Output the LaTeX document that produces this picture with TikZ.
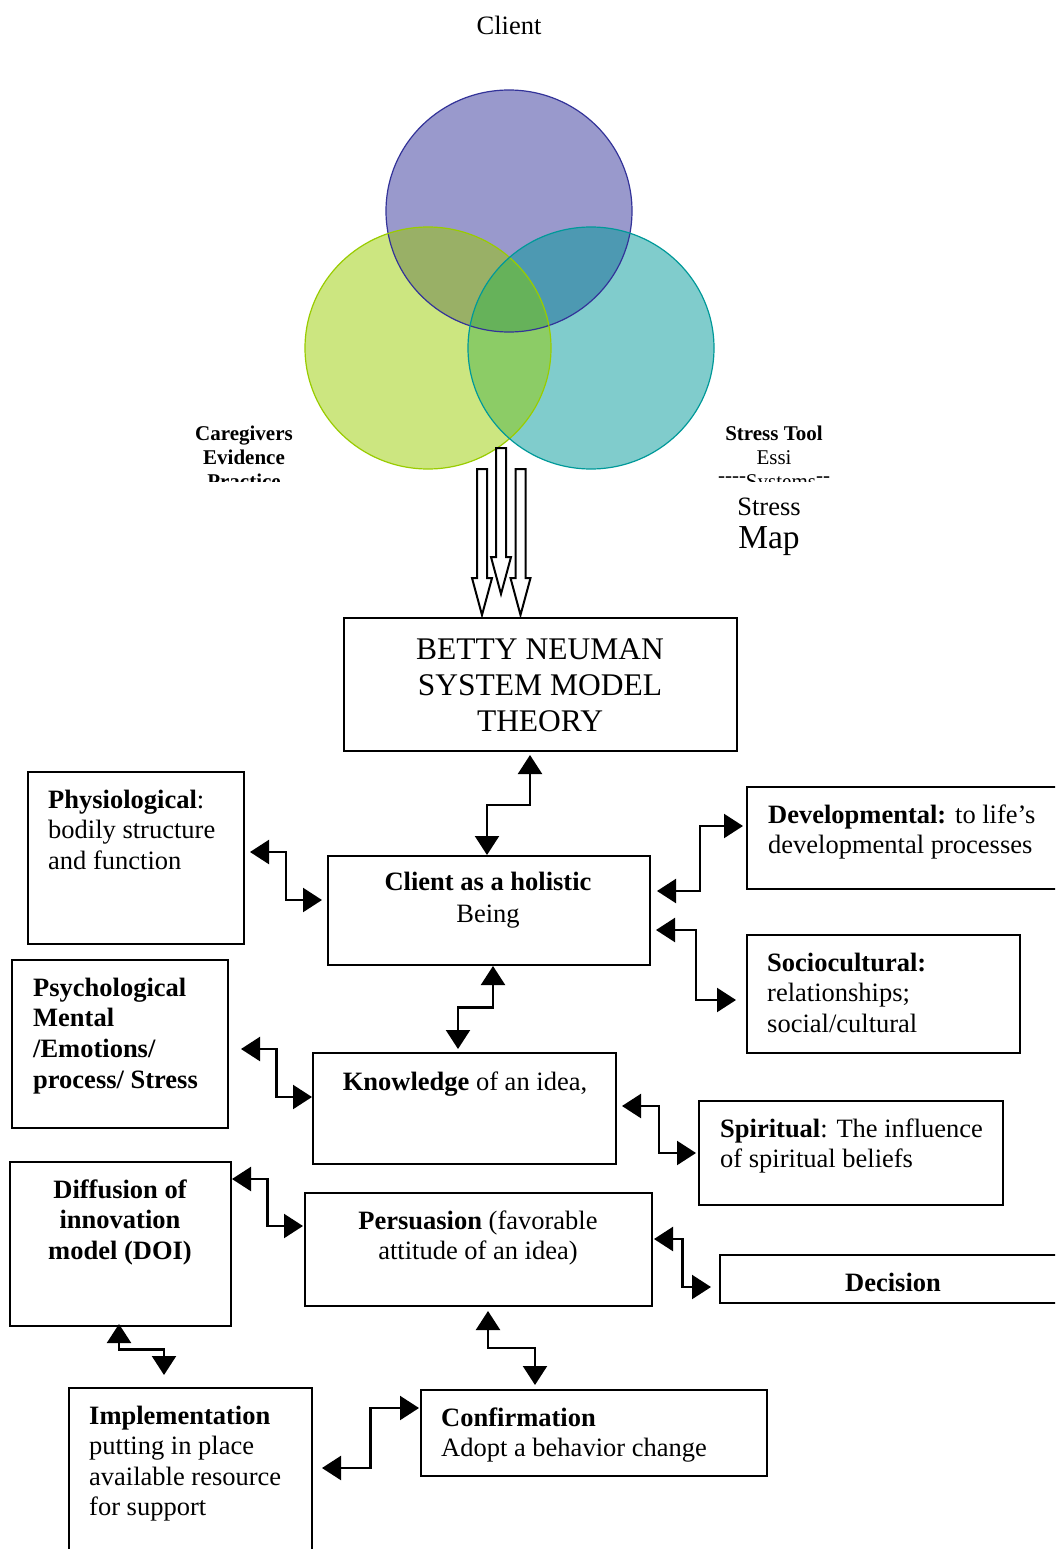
\documentclass[tikz,border=0pt]{standalone}
\usepackage{fontspec}
\setmainfont{Liberation Serif}
\usetikzlibrary{arrows.meta,calc}
\definecolor{cP}{RGB}{153,153,204}
\definecolor{cPb}{RGB}{51,51,153}
\definecolor{cG}{RGB}{204,230,128}
\definecolor{cGb}{RGB}{153,204,0}
\definecolor{cT}{RGB}{128,204,204}
\definecolor{cTb}{RGB}{0,153,153}
\definecolor{cPG}{RGB}{153,176,102}
\definecolor{cPT}{RGB}{77,153,178}
\definecolor{cGT}{RGB}{140,204,102}
\definecolor{cPGT}{RGB}{102,178,90}
\tikzset{
  box/.style={draw, line width=2pt, rectangle, inner sep=0pt},
  txt/.style={inner sep=0pt, font=\fontsize{26.5}{30.5}\selectfont},
  conn/.style={line width=2.2pt, {Triangle[length=19pt,width=24pt]}-{Triangle[length=19pt,width=24pt]}},
  hvh/.style={to path={-| ($(\tikztostart)!0.5!(\tikztotarget)$) |- (\tikztotarget)}},
  vhv/.style={to path={|- ($(\tikztostart)!0.5!(\tikztotarget)$) -| (\tikztotarget)}},
  hollow/.style={draw=black, fill=white, line width=2pt, line join=miter}
}
\newcommand{\hdash}{\raisebox{0.3em}{-}}
\begin{document}
\begin{tikzpicture}[x=1pt,y=-1pt]
\useasboundingbox (0,0) rectangle (1055,1549);
\clip (0,0) rectangle (1055,1549);
\fill[white] (0,0) rectangle (1055,1549);

% title
\node[txt] (client) at (509,25) {Client};

% circles
\def\cPpath{(509,211) ellipse [x radius=123, y radius=121]}
\def\cGpath{(428,348) ellipse [x radius=123, y radius=121]}
\def\cTpath{(591,348) ellipse [x radius=123, y radius=121]}
\fill[cP] \cPpath;
\fill[cG] \cGpath;
\fill[cT] \cTpath;
\begin{scope}\clip \cPpath; \fill[cPG] \cGpath; \end{scope}
\begin{scope}\clip \cPpath; \fill[cPT] \cTpath; \end{scope}
\begin{scope}\clip \cGpath; \fill[cGT] \cTpath; \end{scope}
\begin{scope}\clip \cPpath; \clip \cGpath; \fill[cPGT] \cTpath; \end{scope}
\draw[cPb, line width=1.2pt] \cPpath;
\draw[cGb, line width=1.2pt] \cGpath;
\draw[cTb, line width=1.2pt] \cTpath;

% clipped side labels
\begin{scope}
\clip (150,415) rectangle (340,481);
\node[inner sep=0pt, font=\fontsize{21}{24}\selectfont\bfseries, align=center, anchor=north] (care) at (244,426) {Caregivers\\Evidence\\Practice};
\end{scope}
\begin{scope}
\clip (690,415) rectangle (870,481);
\node[inner sep=0pt, font=\fontsize{21}{24}\selectfont, align=center, anchor=north] (stool) at (774,426) {\textbf{Stress Tool}\\Essi\\\hdash{}\hdash{}\hdash{}\hdash{}Systems\hdash{}\hdash};
\end{scope}
\node[txt] (stress) at (769,507) {Stress};
\node[inner sep=0pt, font=\fontsize{33.5}{36}\selectfont] (map) at (769,541) {Map};

% hollow arrows
\draw[hollow] (477,469) -- (477,578) -- (472,578) -- (482,615) -- (492,578) -- (487,578) -- (487,469) -- cycle;
\draw[hollow] (515.5,469) -- (515.5,578) -- (510.5,578) -- (520.5,615) -- (530.5,578) -- (525.5,578) -- (525.5,469) -- cycle;
\draw[hollow] (496,448) -- (496,557) -- (491,557) -- (501,594) -- (511,557) -- (506,557) -- (506,448) -- cycle;

% boxes
\node[box, minimum width=393pt, minimum height=133pt] (betty) at (540.5,684.5) {};
\node[box, minimum width=216pt, minimum height=172pt] (phys) at (136,858) {};
\node[box, minimum width=322pt, minimum height=109pt] (holis) at (489,910.5) {};
\node[box, minimum width=323pt, minimum height=102pt] (devel) at (908.5,838) {};
\node[box, minimum width=273pt, minimum height=118pt] (socio) at (883.5,994) {};
\node[box, minimum width=216pt, minimum height=168pt] (psych) at (120,1044) {};
\node[box, minimum width=303pt, minimum height=111pt] (know) at (464.5,1108.5) {};
\node[box, minimum width=304pt, minimum height=104pt] (spirit) at (851,1153) {};
\node[box, minimum width=221pt, minimum height=164pt] (diff) at (120.5,1244) {};
\node[box, minimum width=347pt, minimum height=113pt] (pers) at (478.5,1249.5) {};
\node[box, minimum width=350pt, minimum height=48pt] (decis) at (895,1279) {};
\node[box, minimum width=243pt, minimum height=172pt] (impl) at (190.5,1474) {};
\node[box, minimum width=346pt, minimum height=86pt] (conf) at (594,1433) {};

% box texts
\node[inner sep=0pt, font=\fontsize{31.5}{36}\selectfont, align=center, anchor=north] (bettyT) at (540,638) {BETTY NEUMAN\\SYSTEM MODEL\\THEORY};
\node[txt, align=left, anchor=north west] (physT) at (48,789.5) {\textbf{Physiological}:\\bodily structure\\and function};
\node[txt, align=center, anchor=north, font=\fontsize{26.5}{32}\selectfont] (holisT) at (488,871.5) {\textbf{Client as a holistic}\\Being};
\node[txt, align=left, anchor=north west] (develT) at (768,804.5) {\textbf{Developmental:} to life’s\\developmental processes};
\node[txt, align=left, anchor=north west] (socioT) at (767,952.5) {\textbf{Sociocultural:}\\relationships;\\social/cultural};
\node[txt, align=left, anchor=north west, font=\fontsize{26.5}{30.7}\selectfont\bfseries] (psychT) at (33,977.5) {Psychological\\Mental\\/Emotions/\\process/ Stress};
\node[txt, anchor=north] (knowT) at (465,1071.5) {\textbf{Knowledge} of an idea,};
\node[txt, align=left, anchor=north west] (spiritT) at (720,1118.5) {\textbf{Spiritual}: The influence\\of spiritual beliefs};
\node[txt, align=center, anchor=north, font=\fontsize{26.5}{30.5}\selectfont\bfseries] (diffT) at (120,1179.5) {Diffusion of\\innovation\\model (DOI)};
\node[txt, align=center, anchor=north] (persT) at (478,1210.5) {\textbf{Persuasion} (favorable\\attitude of an idea)};
\node[txt, anchor=north, font=\fontsize{26.5}{30.5}\selectfont\bfseries] (decisT) at (893,1272.5) {Decision};
\node[txt, align=left, anchor=north west] (implT) at (89,1405.5) {\textbf{Implementation}\\putting in place\\available resource\\for support};
\node[txt, align=left, anchor=north west] (confT) at (441,1407.5) {\textbf{Confirmation}\\Adopt a behavior change};

% connectors
\draw[conn, vhv] ([shift={(-10.5,3)}]betty.south) to ([shift={(-2,0)}]holis.north);
\draw[conn, hvh] ([shift={(5,-6)}]phys.east) to ([shift={(-5,-10.5)}]holis.west);
\draw[conn, hvh] ([shift={(6,-19.5)}]holis.east) to ([shift={(-3,-12)}]devel.west);
\draw[conn, hvh] ([shift={(5,19.5)}]holis.east) to ([shift={(-10,6)}]socio.west);
\draw[conn, vhv] ([shift={(4,0)}]holis.south) to ([shift={(-6.5,-3)}]know.north);
\draw[conn, hvh] ([shift={(12,5)}]psych.east) to ([shift={(0,-11.5)}]know.west);
\draw[conn, hvh] ([shift={(5,-2.5)}]know.east) to ([shift={(-2,0)}]spirit.west);
\draw[conn, hvh] ([shift={(0,-65)}]diff.east) to ([shift={(-1,-23.5)}]pers.west);
\draw[conn, hvh] ([shift={(1,-10.5)}]pers.east) to ([shift={(-8,8)}]decis.west);
\draw[conn, vhv] ([shift={(9.5,4)}]pers.south) to ([shift={(-59,-4)}]conf.north);
\draw[conn, vhv] ([shift={(-1.5,-3)}]diff.south) to ([shift={(-26.5,-12)}]impl.north);
\draw[conn, hvh] ([shift={(9,-6)}]impl.east) to ([shift={(-1,-25)}]conf.west);
\end{tikzpicture}
\end{document}
